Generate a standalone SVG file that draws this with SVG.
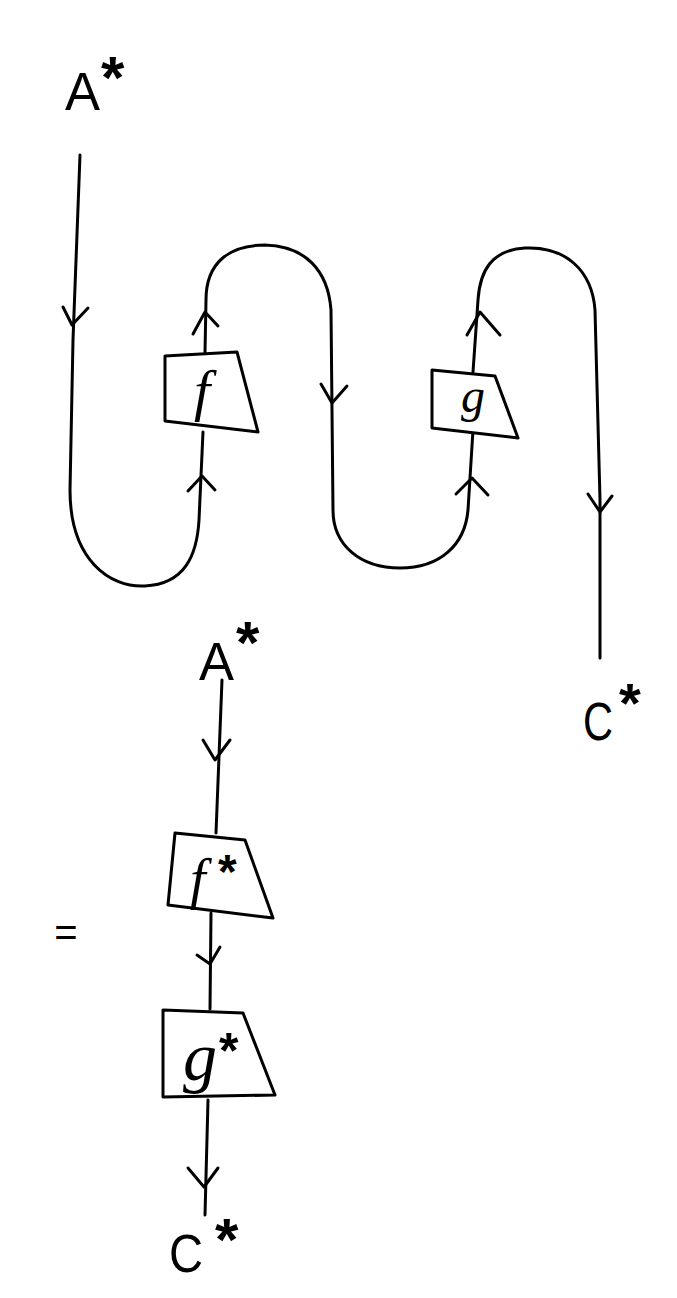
<svg xmlns="http://www.w3.org/2000/svg" width="677" height="1298" viewBox="0 0 677 1298">
<style>
.w{fill:none;stroke:#000;stroke-width:3;stroke-linecap:round;stroke-linejoin:round}
.b{fill:#fff;stroke:#000;stroke-width:3;stroke-linejoin:round}
.lab{font-family:"Liberation Sans",Arial,sans-serif;fill:#000}
.st{font-family:"Liberation Sans",Arial,sans-serif;fill:#000;font-weight:bold}
.fn{font-family:"Liberation Serif","Times New Roman",serif;font-style:italic;fill:#000}
</style>
<rect width="677" height="1298" fill="#fff"/>
<g id="connectors">
  <path class="w" d="M80,155 L73,340 L70,490 C70,560 110,588 145,586 C185,584 197,555 199,520 L203,432"/>
  <path class="w" d="M205,352 L206,300 C206,262 230,245 265,245 C305,246 328,270 331,310 L333,510 C333,545 360,568 400,568 C440,568 465,545 468,510 L473,430"/>
  <path class="w" d="M473,372 L478,300 C480,270 492,250 525,248 C565,246 592,270 595,310 L600,500 L600,658"/>
  <path class="w" d="M63,307 L72,325 L88,308"/>
  <path class="w" d="M188,491 L202,476 L215,490"/>
  <path class="w" d="M193,334 L205,312 L218,326"/>
  <path class="w" d="M321,384 L332,403 L347,386"/>
  <path class="w" d="M456,494 L472,478 L488,495"/>
  <path class="w" d="M467,335 L480,312 L500,335"/>
  <path class="w" d="M588,494 L600,512 L612,496"/>
  <path class="w" d="M222,680 L216,833"/>
  <path class="w" d="M211,913 L210,1009"/>
  <path class="w" d="M208,1100 L205,1215"/>
  <path class="w" d="M203,740 L215,760 L230,740"/>
  <path class="w" d="M197,955 L210,964 L220,947"/>
  <path class="w" d="M188,1168 L204,1187 L218,1168"/>
</g>
<g id="labelA1"><text class="lab" x="65" y="110" font-size="54" textLength="35" lengthAdjust="spacingAndGlyphs">A</text><text class="st" x="101" y="98" font-size="60">*</text></g>
<g id="labelC1"><text class="lab" x="583" y="740" font-size="54" textLength="30" lengthAdjust="spacingAndGlyphs">C</text><text class="st" x="619" y="722" font-size="56">*</text></g>
<g id="f"><path class="b" d="M165,356 L237,352 L258,432 L165,421 Z"/><text class="fn" x="202" y="410" font-size="58" text-anchor="middle">f</text></g>
<g id="g"><path class="b" d="M432,370 L495,376 L518,438 L432,428 Z"/><text class="fn" x="473" y="412" font-size="48" text-anchor="middle">g</text></g>
<g id="labelA2"><text class="lab" x="199" y="680" font-size="54" textLength="35" lengthAdjust="spacingAndGlyphs">A</text><text class="st" x="236" y="663" font-size="60">*</text></g>
<g id="fstar"><path class="b" d="M175,833 L245,840 L273,918 L168,905 Z"/><text class="fn" x="190" y="898" font-size="56">f</text><text class="st" x="218" y="888" font-size="48">*</text></g>
<g id="gstar"><path class="b" d="M163,1010 L243,1013 L275,1095 L163,1097 Z"/><text class="fn" x="183" y="1080" font-size="68">g</text><text class="st" x="219" y="1068" font-size="50">*</text></g>
<g id="labelC2"><text class="lab" x="169" y="1272" font-size="54" textLength="34" lengthAdjust="spacingAndGlyphs">C</text><text class="st" x="215" y="1260" font-size="60">*</text></g>
<g id="eq"><text class="lab" x="66" y="946" font-size="40" text-anchor="middle">=</text></g>
</svg>
